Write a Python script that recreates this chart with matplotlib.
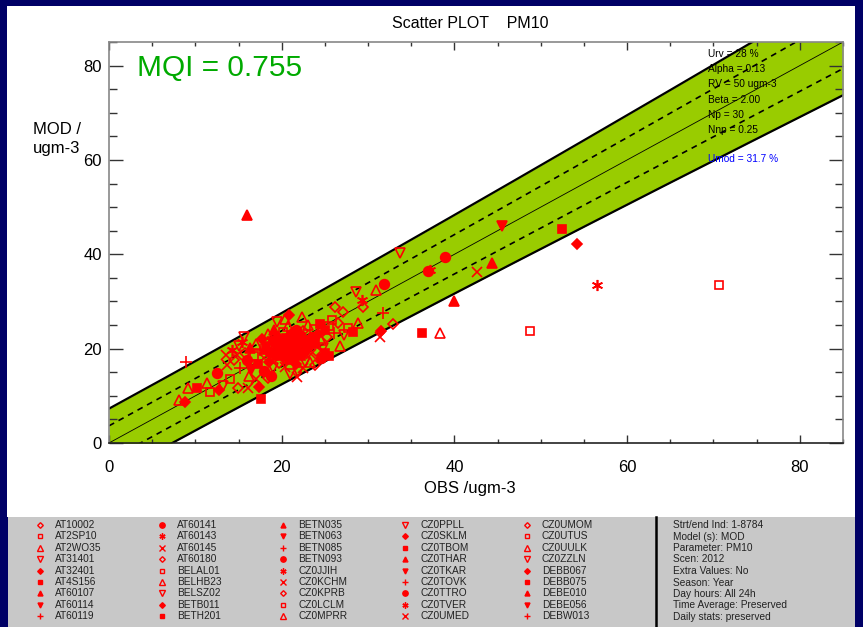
import numpy as np
import matplotlib
matplotlib.use("Agg")
import matplotlib.pyplot as plt
from matplotlib.patches import Rectangle

plt.rcParams['font.family'] = ['Liberation Sans', 'DejaVu Sans']

# ---------------- data ----------------
title_text = "Scatter PLOT    PM10"
mqi_text = "MQI = 0.755"
x_label = "OBS /ugm-3"
y_label = "MOD /\nugm-3"
axis_ticks = [0, 20, 40, 60, 80]

# uncertainty parameters (used for the green acceptance band)
urv = 0.28
alpha = 0.13
rv = 50.0
beta = 2.0
n_p = 30
n_np = 0.25
param_lines = ["Urv = 28 %", "Alpha = 0.13", "RV = 50 ugm-3", "Beta = 2.00",
               "Np = 30", "Nnp = 0.25"]
umod_text = "Umod = 31.7 %"

# marker code per point: 0 open diamond, 1 open square, 2 open tri-up, 3 open tri-down,
# 4 filled diamond, 5 filled square, 6 filled tri-up, 7 filled tri-down, 8 plus,
# 9 filled circle, 10 asterisk, 11 x
obs_values = [
    16.0, 33.7, 38.9, 31.9, 36.9, 37.2, 45.5, 52.5, 54.2, 56.5, 70.6, 42.6, 44.3, 40.0,
    36.2, 38.3, 48.8, 30.9, 31.7, 32.9, 31.5, 31.4, 29.3, 29.4, 28.6, 26.2, 27.1, 20.9,
    22.3, 25.8, 28.8, 27.7, 28.2, 25.5, 21.9, 21.8, 23.3, 8.9, 9.1, 10.2, 8.1, 8.8,
    11.3, 11.7, 12.7, 12.5, 13.2, 13.7, 14.0, 14.8, 14.9, 16.1, 17.4, 17.6,
    15.0, 15.4, 15.8, 16.0, 16.3, 16.5, 16.8, 17.0, 17.2, 17.5, 17.7, 17.9, 18.0, 18.2,
    18.4, 18.5, 18.7, 18.9, 19.0, 19.1, 19.3, 19.4, 19.6, 19.7, 19.8, 20.0, 20.1, 20.2,
    20.3, 20.4, 20.5, 20.6, 20.7, 20.8, 20.9, 21.0, 21.1, 21.2, 21.3, 21.4, 21.5, 21.6,
    21.7, 21.8, 21.9, 22.0, 22.1, 22.2, 22.3, 22.5, 22.6, 22.7, 22.9, 23.0, 23.2, 23.4,
    23.5, 23.7, 23.9, 24.0, 24.2, 24.4, 24.6, 24.8, 25.0, 25.2, 25.5, 26.0, 26.5, 19.5,
    20.4, 18.8, 17.0, 16.2, 15.2, 14.5, 14.2, 13.5, 15.6, 21.0, 22.5, 23.8, 24.5, 25.0,
    26.8, 27.2, 18.4, 19.9, 20.6, 21.5, 22.8, 19.2, 18.1, 20.9,
]
mod_values = [
    48.3, 40.2, 39.4, 33.7, 36.4, 36.6, 46.1, 45.3, 42.1, 33.4, 33.4, 36.2, 38.1, 30.1,
    23.3, 23.3, 23.7, 32.4, 27.5, 25.2, 23.7, 22.4, 30.3, 28.8, 32.0, 28.8, 27.7, 27.1,
    26.7, 26.0, 25.4, 24.3, 23.5, 18.4, 15.0, 14.0, 17.1, 17.1, 11.6, 11.6, 9.1, 8.7,
    12.7, 10.8, 11.2, 14.8, 12.0, 16.5, 13.5, 18.6, 11.6, 11.6, 11.9, 9.3,
    20.5, 21.5, 19.0, 17.5, 20.2, 15.5, 18.5, 21.0, 16.8, 19.8, 22.0, 18.0, 15.2, 20.5,
    23.0, 17.2, 19.2, 21.5, 16.0, 24.0, 18.5, 20.8, 22.5, 17.0, 19.6, 21.4, 23.5, 18.0,
    20.0, 16.2, 22.2, 19.0, 24.8, 20.6, 17.6, 21.8, 23.0, 19.5, 18.2, 20.9, 22.6, 16.8,
    24.0, 20.2, 19.0, 21.5, 22.8, 18.4, 20.7, 23.8, 19.6, 17.2, 21.9, 25.0, 20.3, 18.9,
    22.5, 24.2, 21.0, 19.5, 23.2, 25.2, 21.8, 20.1, 24.0, 22.5, 24.8, 23.3, 25.5, 25.6,
    26.3, 14.2, 13.6, 14.2, 16.0, 17.5, 19.8, 18.7, 22.4, 14.6, 15.8, 16.6, 18.0, 19.0,
    20.5, 22.8, 13.8, 21.0, 21.9, 19.8, 21.2, 22.0, 19.9, 20.4,
]
marker_codes = [
    6, 3, 9, 9, 9, 10, 7, 5, 4, 10, 1, 11, 6, 6,
    5, 2, 1, 2, 8, 0, 4, 11, 10, 0, 3, 0, 0, 4,
    2, 1, 2, 1, 5, 5, 3, 11, 2, 8, 2, 5, 2, 4,
    2, 1, 4, 9, 3, 11, 1, 11, 0, 11, 4, 5,
    3, 10, 0, 9, 6, 7, 1, 2, 5, 8, 4, 11, 9, 5,
    2, 4, 9, 7, 3, 6, 5, 9, 4, 0, 5, 9, 1, 7,
    4, 11, 5, 9, 2, 6, 5, 9, 4, 5, 9, 7, 5, 4,
    9, 5, 6, 4, 9, 5, 1, 0, 9, 3, 5, 2, 4, 11,
    9, 1, 5, 0, 4, 5, 2, 3, 5, 0, 1, 8, 0, 3,
    2, 9, 11, 2, 8, 0, 10, 11, 3, 3, 11, 0, 9, 5,
    2, 3, 0, 5, 9, 4, 5, 10, 6, 9,
]

station_names = [
    "AT10002", "AT2SP10", "AT2WO35", "AT31401", "AT32401", "AT4S156", "AT60107", "AT60114", "AT60119",
    "AT60141", "AT60143", "AT60145", "AT60180", "BELAL01", "BELHB23", "BELSZ02", "BETB011", "BETH201",
    "BETN035", "BETN063", "BETN085", "BETN093", "CZ0JJIH", "CZ0KCHM", "CZ0KPRB", "CZ0LCLM", "CZ0MPRR",
    "CZ0PPLL", "CZ0SKLM", "CZ0TBOM", "CZ0THAR", "CZ0TKAR", "CZ0TOVK", "CZ0TTRO", "CZ0TVER", "CZ0UMED",
    "CZ0UMOM", "CZ0UTUS", "CZ0UULK", "CZ0ZZLN", "DEBB067", "DEBB075", "DEBE010", "DEBE056", "DEBW013",
]

info_lines = ["Strt/end Ind: 1-8784", "Model (s): MOD", "Parameter: PM10", "Scen: 2012",
              "Extra Values: No", "Season: Year", "Day hours: All 24h",
              "Time Average: Preserved", "Daily stats: preserved"]

# ---------------- styles ----------------
RED = '#ff0000'
MARKERS = [  # (marker, filled, size)
    ('D', False, 5.2), ('s', False, 6.0), ('^', False, 7.0), ('v', False, 7.0),
    ('D', True, 5.2), ('s', True, 5.6), ('^', True, 6.5), ('v', True, 6.5),
    ('+', None, 8.0), ('o', True, 7.0), ((6, 2, 0), None, 8.0), ('x', None, 7.0),
]

W, H = 863, 627
fig = plt.figure(figsize=(W / 100, H / 100), dpi=100)
fig.patch.set_facecolor('#000066')

# overlay axes in pixel coordinates (panels, legend)
ov = fig.add_axes([0, 0, 1, 1], zorder=-1)
ov.set_xlim(0, W)
ov.set_ylim(H, 0)
ov.axis('off')
ov.add_patch(Rectangle((7, 6), 848, 511, facecolor='white', edgecolor='none'))
ov.add_patch(Rectangle((8, 517), 847, 110, facecolor='#c8c8c8', edgecolor='none'))
ov.plot([656, 656], [517, 627], color='black', lw=1.8)

ax = fig.add_axes([109 / W, 1 - 443 / H, (843 - 109) / W, (443 - 42) / H], zorder=1)
ax.set_facecolor('none')
ax.set_xlim(0, 85)
ax.set_ylim(0, 85)

# acceptance band
o = np.linspace(0, 85, 400)
u = urv * np.sqrt((1 - alpha ** 2) * o ** 2 / n_p + alpha ** 2 * rv ** 2 / n_np)
ax.fill_between(o, o - beta * u, o + beta * u, color='#99cc00', lw=0, zorder=1)
ax.plot(o, o + beta * u, color='black', lw=1.6, zorder=2)
ax.plot(o, o - beta * u, color='black', lw=1.6, zorder=2)
ax.plot(o, o + u, color='black', lw=1.2, ls=(0, (3.5, 3)), zorder=2)
ax.plot(o, o - u, color='black', lw=1.2, ls=(0, (3.5, 3)), zorder=2)
ax.plot(o, o, color='black', lw=0.6, zorder=2)

obs_arr = np.array(obs_values)
mod_arr = np.array(mod_values)
code_arr = np.array(marker_codes)
for code, (mk, filled, ms) in enumerate(MARKERS):
    sel = code_arr == code
    if not sel.any():
        continue
    kw = dict(marker=mk, ms=ms, ls='none', color=RED, mew=1.2, zorder=3)
    if filled is False:
        kw['mfc'] = 'none'
    ax.plot(obs_arr[sel], mod_arr[sel], **kw)

# ticks and spines
ax.set_xticks(axis_ticks)
ax.set_yticks(axis_ticks)
ax.set_xticks(np.arange(0, 86, 5), minor=True)
ax.set_yticks(np.arange(0, 86, 5), minor=True)
ax.tick_params(which='both', direction='in', top=True, right=True, color='#333333',
               labelsize=12, labelcolor='black')
ax.tick_params(axis='y', which='major', length=10, width=1, pad=5)
ax.tick_params(axis='y', which='minor', length=6, width=1)
ax.tick_params(axis='x', which='major', length=6, width=1, pad=12)
ax.tick_params(axis='x', which='minor', length=3, width=1)
for side in ['left', 'top', 'right']:
    ax.spines[side].set_color('#888888')
ax.spines['bottom'].set_color('#222222')
for s in ax.spines.values():
    s.set_linewidth(1.2)

# texts
ov_t = ov.transData
ax.text(470, 23, title_text, transform=ov_t, ha='center', va='center', fontsize=11.5)
ax.text(137, 68, mqi_text, transform=ov_t, ha='left', va='center', fontsize=21.5,
        color='#00aa00')
ax.text(470, 489, x_label, transform=ov_t, ha='center', va='center', fontsize=12)
ax.text(33, 139, y_label, transform=ov_t, ha='left', va='center', fontsize=12,
        linespacing=1.3)
for i, line in enumerate(param_lines):
    ax.text(708, 54 + i * 15.2, line, transform=ov_t, ha='left', va='center', fontsize=7.3,
            zorder=5)
ax.text(708, 159, umod_text, transform=ov_t, ha='left', va='center', fontsize=7.3,
        color='#0000ff', zorder=5)

# legend of stations
for i, name in enumerate(station_names):
    col, row = divmod(i, 9)
    mx = 40 + col * 121.7
    my = 525 + row * 11.4
    mk, filled, ms = MARKERS[i % len(MARKERS)]
    kw = dict(marker=mk, ms=ms * 0.55, ls='none', color=RED, mew=1.0)
    if filled is False:
        kw['mfc'] = 'none'
    ov.plot([mx], [my], **kw)
    ov.text(mx + 15, my, name, ha='left', va='center', fontsize=7.3, color='#222222')

for i, line in enumerate(info_lines):
    ov.text(673, 525 + i * 11.5, line, ha='left', va='center', fontsize=7.3, color='#222222')

fig.savefig('out.png', dpi=100, facecolor=fig.get_facecolor())
